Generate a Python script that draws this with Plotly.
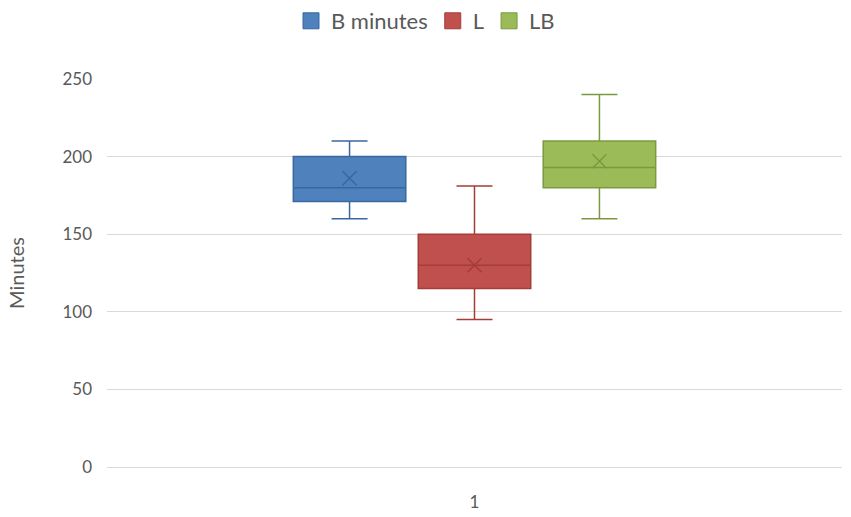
import plotly.graph_objects as go

# Datos
series = ["B minutes", "L", "LB"]
categoria = ["1"]
q1 = [171, 115, 180]
mediana = [180, 130, 193]
q3 = [200, 150, 210]
minimo = [160, 95, 160]
maximo = [210, 181, 240]
media = [186, 130, 197]

relleno = ["#4F81BD", "#C0504D", "#9BBB59"]
borde = ["#3A679E", "#A23D3A", "#7A9A40"]

fig = go.Figure()

for i, nombre in enumerate(series):
    fig.add_trace(go.Box(
        x=categoria,
        q1=[q1[i]], median=[mediana[i]], q3=[q3[i]],
        lowerfence=[minimo[i]], upperfence=[maximo[i]],
        name=nombre,
        legendgroup=nombre,
        showlegend=False,
        offsetgroup=nombre,
        fillcolor=relleno[i],
        line=dict(color=borde[i], width=1.5),
        whiskerwidth=0.32,
        boxpoints=False,
    ))

# Marcas de la media (X) y entradas de leyenda con cuadrado grande
for i, nombre in enumerate(series):
    fig.add_trace(go.Scatter(
        x=categoria,
        y=[media[i]],
        mode="markers",
        offsetgroup=nombre,
        legendgroup=nombre,
        marker=dict(symbol="x-thin", size=14, line=dict(color=borde[i], width=1.5)),
        showlegend=False,
        hoverinfo="skip",
    ))
    fig.add_trace(go.Scatter(
        x=[None], y=[None],
        mode="markers",
        name=nombre,
        legendgroup=nombre,
        offsetgroup=nombre,
        marker=dict(symbol="square", size=18, color=relleno[i],
                    line=dict(color=borde[i], width=1)),
    ))

fig.update_layout(
    width=851, height=517,
    boxmode="group",
    boxgap=0.49,
    boxgroupgap=0.1,
    scattermode="group",
    scattergap=0.49,
    plot_bgcolor="white",
    paper_bgcolor="white",
    margin=dict(l=107, r=9, t=79, b=50),
    font=dict(family="Lato", size=17, color="#595959"),
    legend=dict(orientation="h", x=0.5, xanchor="center", xref="container",
                y=1.0, yanchor="top", yref="container",
                itemsizing="trace", itemwidth=30,
                font=dict(size=22, color="#595959")),
    yaxis=dict(
        title=dict(text="Minutes", standoff=32),
        range=[0, 250], dtick=50,
        gridcolor="#D9D9D9", gridwidth=1,
        zeroline=False, showline=False,
        ticks="", ticklabelstandoff=14,
        automargin=False,
    ),
    xaxis=dict(
        showgrid=False,
        showline=True, linecolor="#D9D9D9", linewidth=1,
        ticks="", ticklabelstandoff=20,
        automargin=False,
    ),
)

# Quitar el margen del body para que la figura quede alineada
fig.write_html("out.html", config={"displayModeBar": False},
               post_script="document.body.style.margin='0';")
